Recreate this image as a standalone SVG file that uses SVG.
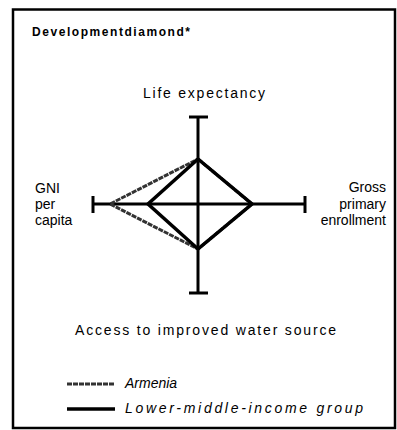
<svg xmlns="http://www.w3.org/2000/svg" width="397" height="430" viewBox="0 0 397 430">
<style>
text{font-family:"Liberation Sans",Arial,sans-serif;fill:#000}
.lbl{font-size:14px}
.leg{font-size:14px;font-style:italic}
.axis{stroke:#000;stroke-width:3;fill:none}
.arm{stroke:#333;stroke-width:3;fill:none;stroke-dasharray:5 1;stroke-linejoin:round}
.lmi{stroke:#000;stroke-width:3.5;fill:none;stroke-linejoin:miter}
</style>
<rect x="0" y="0" width="397" height="430" fill="#fff"/>
<g id="frame">
<path d="M13 428 V9.5 H395 V428 Z" fill="none" stroke="#000" stroke-width="2.5"/>
</g>
<text id="title" x="32" y="36" font-size="12" font-weight="bold" textLength="158" lengthAdjust="spacing">Developmentdiamond*</text>
<g id="axes">
<line class="axis" x1="198" y1="117" x2="198" y2="293"/>
<line class="axis" x1="93" y1="204" x2="305" y2="204"/>
<line class="axis" x1="189" y1="117" x2="208" y2="117" stroke-width="4"/>
<line class="axis" x1="189" y1="293" x2="208" y2="293" stroke-width="4"/>
<line class="axis" x1="93" y1="196" x2="93" y2="213" stroke-width="4"/>
<line class="axis" x1="305" y1="196" x2="305" y2="213" stroke-width="4"/>
</g>
<g id="connectors">
<polygon id="armenia" class="arm" points="198,159 252,204 198,249 110,204"/>
<polygon id="lower-middle" class="lmi" points="198,159 252,204 198,249 148,204"/>
</g>
<g id="life"><text class="lbl" x="204" y="98" text-anchor="middle" textLength="122" lengthAdjust="spacing">Life expectancy</text></g>
<g id="water"><text class="lbl" x="75" y="335" textLength="261" lengthAdjust="spacing">Access to improved water source</text></g>
<g id="gni">
<text class="lbl" x="35" y="193">GNI</text>
<text class="lbl" x="35" y="209">per</text>
<text class="lbl" x="35" y="225">capita</text>
</g>
<g id="gross">
<text class="lbl" x="386" y="192" text-anchor="end">Gross</text>
<text class="lbl" x="386" y="209" text-anchor="end">primary</text>
<text class="lbl" x="386" y="225" text-anchor="end">enrollment</text>
</g>
<g id="legend">
<line class="arm" x1="67" y1="384" x2="115" y2="384" stroke-width="2"/>
<text class="leg" x="125" y="388">Armenia</text>
<line x1="67" y1="409" x2="115" y2="409" stroke="#000" stroke-width="3.5"/>
<text class="leg" x="125" y="413" textLength="238" lengthAdjust="spacing">Lower-middle-income group</text>
</g>
</svg>
